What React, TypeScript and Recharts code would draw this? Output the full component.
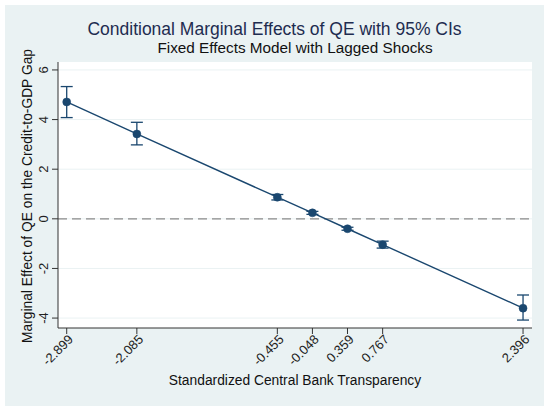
import { ComposedChart, Line, XAxis, YAxis, CartesianGrid, ReferenceLine, ErrorBar } from "recharts";

// values
const transparency = [-2.899, -2.085, -0.455, -0.048, 0.359, 0.767, 2.396];
const transparencyLabels = ["-2.899", "-2.085", "-0.455", "-0.048", "0.359", "0.767", "2.396"];
const effect = [4.71, 3.42, 0.87, 0.24, -0.4, -1.04, -3.6];
const ciLow = [4.08, 2.98, 0.76, 0.18, -0.46, -1.18, -4.08];
const ciHigh = [5.33, 3.89, 0.98, 0.3, -0.34, -0.9, -3.07];
const yTicks = [-4, -2, 0, 2, 4, 6];

const NAVY = "#1a476f";
const FONT = "'Liberation Sans', Arial, sans-serif";

const data = transparency.map((x, i) => ({
  x,
  y: effect[i],
  err: [effect[i] - ciLow[i], ciHigh[i] - effect[i]],
}));

const XTick = ({ x, y, payload }: any) => {
  const i = transparency.indexOf(payload.value);
  return (
    <text
      transform={`translate(${x + 4},${y + 1}) rotate(-45)`}
      textAnchor="end"
      dy="0.35em"
      fontSize={13}
      fontFamily={FONT}
      fill="#222"
    >
      {i >= 0 ? transparencyLabels[i] : payload.value}
    </text>
  );
};

const YTick = ({ x, y, payload }: any) => (
  <text
    transform={`translate(${x},${y}) rotate(-90)`}
    textAnchor="middle"
    fontSize={13}
    fontFamily={FONT}
    fill="#222"
  >
    {payload.value}
  </text>
);

export default function App() {
  return (
    <div style={{ position: "absolute", left: 0, top: 0, width: 550, height: 411, background: "#fff", fontFamily: FONT }}>
      <div style={{ position: "absolute", left: 5, top: 5, width: 539, height: 401, background: "#eaf2f3" }} />
      <div style={{ position: "absolute", left: 5, width: 539, top: 19, textAlign: "center", fontSize: 17.5, color: "#1e2c50" }}>
        Conditional Marginal Effects of QE with 95% CIs
      </div>
      <div style={{ position: "absolute", left: 58, width: 474, top: 39, textAlign: "center", fontSize: 15.3, color: "#111" }}>
        Fixed Effects Model with Lagged Shocks
      </div>
      <div style={{ position: "absolute", left: 58, width: 474, top: 373, textAlign: "center", fontSize: 13.8, color: "#111" }}>
        Standardized Central Bank Transparency
      </div>
      <div
        style={{
          position: "absolute", left: 28 - 160, top: 196 - 9, width: 320, height: 18,
          textAlign: "center", fontSize: 13.8, color: "#111", transform: "rotate(-90deg)", lineHeight: "18px",
        }}
      >
        Marginal Effect of QE on the Credit-to-GDP Gap
      </div>
      <div style={{ position: "absolute", left: 0, top: 0 }}>
        <ComposedChart width={550} height={411} data={data} margin={{ top: 62, right: 18, bottom: 43, left: 28 }}>
          <CartesianGrid vertical={false} fill="#fff" stroke="#eaf2f3" horizontalValues={yTicks} />
          <XAxis
            dataKey="x"
            type="number"
            domain={[-3.0, 2.5]}
            ticks={transparency}
            interval={0}
            height={40}
            tickSize={6}
            tickMargin={2}
            tick={<XTick />}
            stroke="#333"
            allowDataOverflow
          />
          <YAxis
            type="number"
            domain={[-4.4, 6.32]}
            ticks={yTicks}
            width={30}
            tickSize={6}
            tickMargin={4}
            tick={<YTick />}
            stroke="#333"
            allowDataOverflow
          />
          <ReferenceLine y={0} stroke="#8a8a8a" strokeWidth={1.3} strokeDasharray="9 5" />
          <Line
            dataKey="y"
            stroke={NAVY}
            strokeWidth={1.4}
            dot={{ r: 4, fill: NAVY, stroke: NAVY, strokeWidth: 0.5 }}
            activeDot={false}
            isAnimationActive={false}
          >
            <ErrorBar dataKey="err" direction="y" width={6} stroke={NAVY} strokeWidth={1.3} isAnimationActive={false} />
          </Line>
        </ComposedChart>
      </div>
    </div>
  );
}
